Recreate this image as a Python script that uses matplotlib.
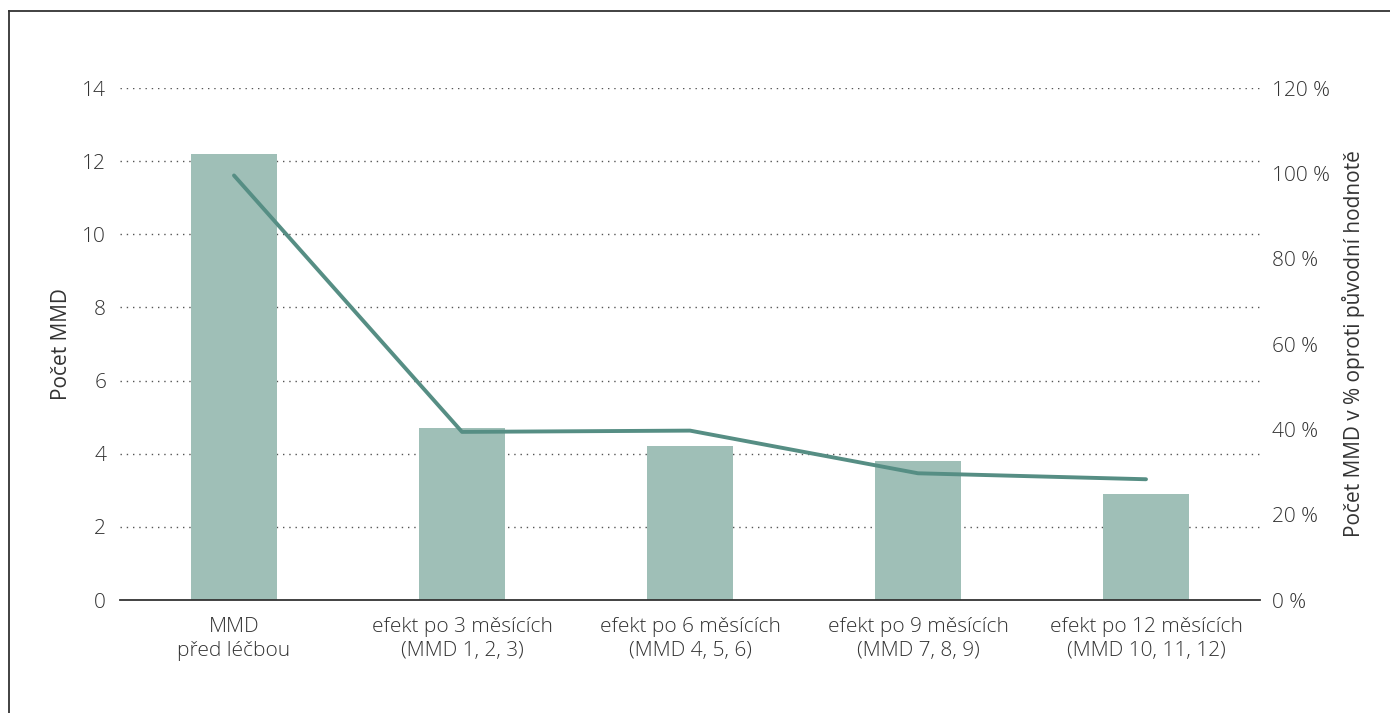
import matplotlib
matplotlib.use("Agg")
import matplotlib.pyplot as plt
from matplotlib.lines import Line2D
from matplotlib.ticker import FixedLocator

categories = ["MMD\npřed léčbou",
              "efekt po 3 měsících\n(MMD 1, 2, 3)",
              "efekt po 6 měsících\n(MMD 4, 5, 6)",
              "efekt po 9 měsících\n(MMD 7, 8, 9)",
              "efekt po 12 měsících\n(MMD 10, 11, 12)"]
mmd_values = [12.2, 4.7, 4.2, 3.8, 2.9]
pct_values = [99.5, 39.4, 39.7, 29.7, 28.3]
left_ticks = [0, 2, 4, 6, 8, 10, 12, 14]
right_ticks = [0, 20, 40, 60, 80, 100, 120]

plt.rcParams['font.family'] = ['Open Sans', 'DejaVu Sans']
plt.rcParams['font.weight'] = 300
text_color = '#333333'
bar_color = '#9fbfb7'
line_color = '#568e84'
fs = 15

fig = plt.figure(figsize=(13.9, 7.13), dpi=100)
ax = fig.add_axes([120/1390, 1-600/713, 1140/1390, 512/713])
ax2 = ax.twinx()

x = list(range(len(categories)))
ax.bar(x, mmd_values, width=0.373, color=bar_color, zorder=2)
ax.set_xlim(-0.5, 4.5)
ax.set_ylim(0, 14)
ax.yaxis.set_major_locator(FixedLocator(left_ticks))
for t in left_ticks[1:]:
    ax.axhline(t, color='#555555', lw=1.0, ls=(0, (1, 3.5)), zorder=1)
ax.set_axisbelow(True)

ax2.plot(x, pct_values, color=line_color, lw=2.8, solid_capstyle='round',
         solid_joinstyle='round', zorder=3)
ax2.set_ylim(0, 120)
ax2.yaxis.set_major_locator(FixedLocator(right_ticks))
ax2.set_yticklabels([f"{v} %" for v in right_ticks])

for a in (ax, ax2):
    for s in a.spines.values():
        s.set_visible(False)
ax.spines['bottom'].set_visible(True)
ax.spines['bottom'].set_color('#333333')
ax.spines['bottom'].set_linewidth(1.3)

ax.set_xticks(x)
ax.set_xticklabels(categories, fontsize=fs, color=text_color, linespacing=1.3)
ax.tick_params(axis='x', length=0, pad=12)
ax.tick_params(axis='y', length=0, pad=10, labelsize=fs, labelcolor=text_color)
ax2.tick_params(axis='y', length=0, pad=9, labelsize=fs, labelcolor=text_color)

ax.set_ylabel("Počet MMD", fontsize=fs, color=text_color, labelpad=7)
ax2.set_ylabel("Počet MMD v % oproti původní hodnotě", fontsize=fs,
               color=text_color, labelpad=8)

# figure frame
fig.add_artist(Line2D([9/1390, 9/1390], [0, 1-11/713], transform=fig.transFigure,
                      color='#333333', lw=1.3))
fig.add_artist(Line2D([9/1390, 1], [1-11/713, 1-11/713], transform=fig.transFigure,
                      color='#333333', lw=1.3))

fig.savefig("out.png", dpi=100)
